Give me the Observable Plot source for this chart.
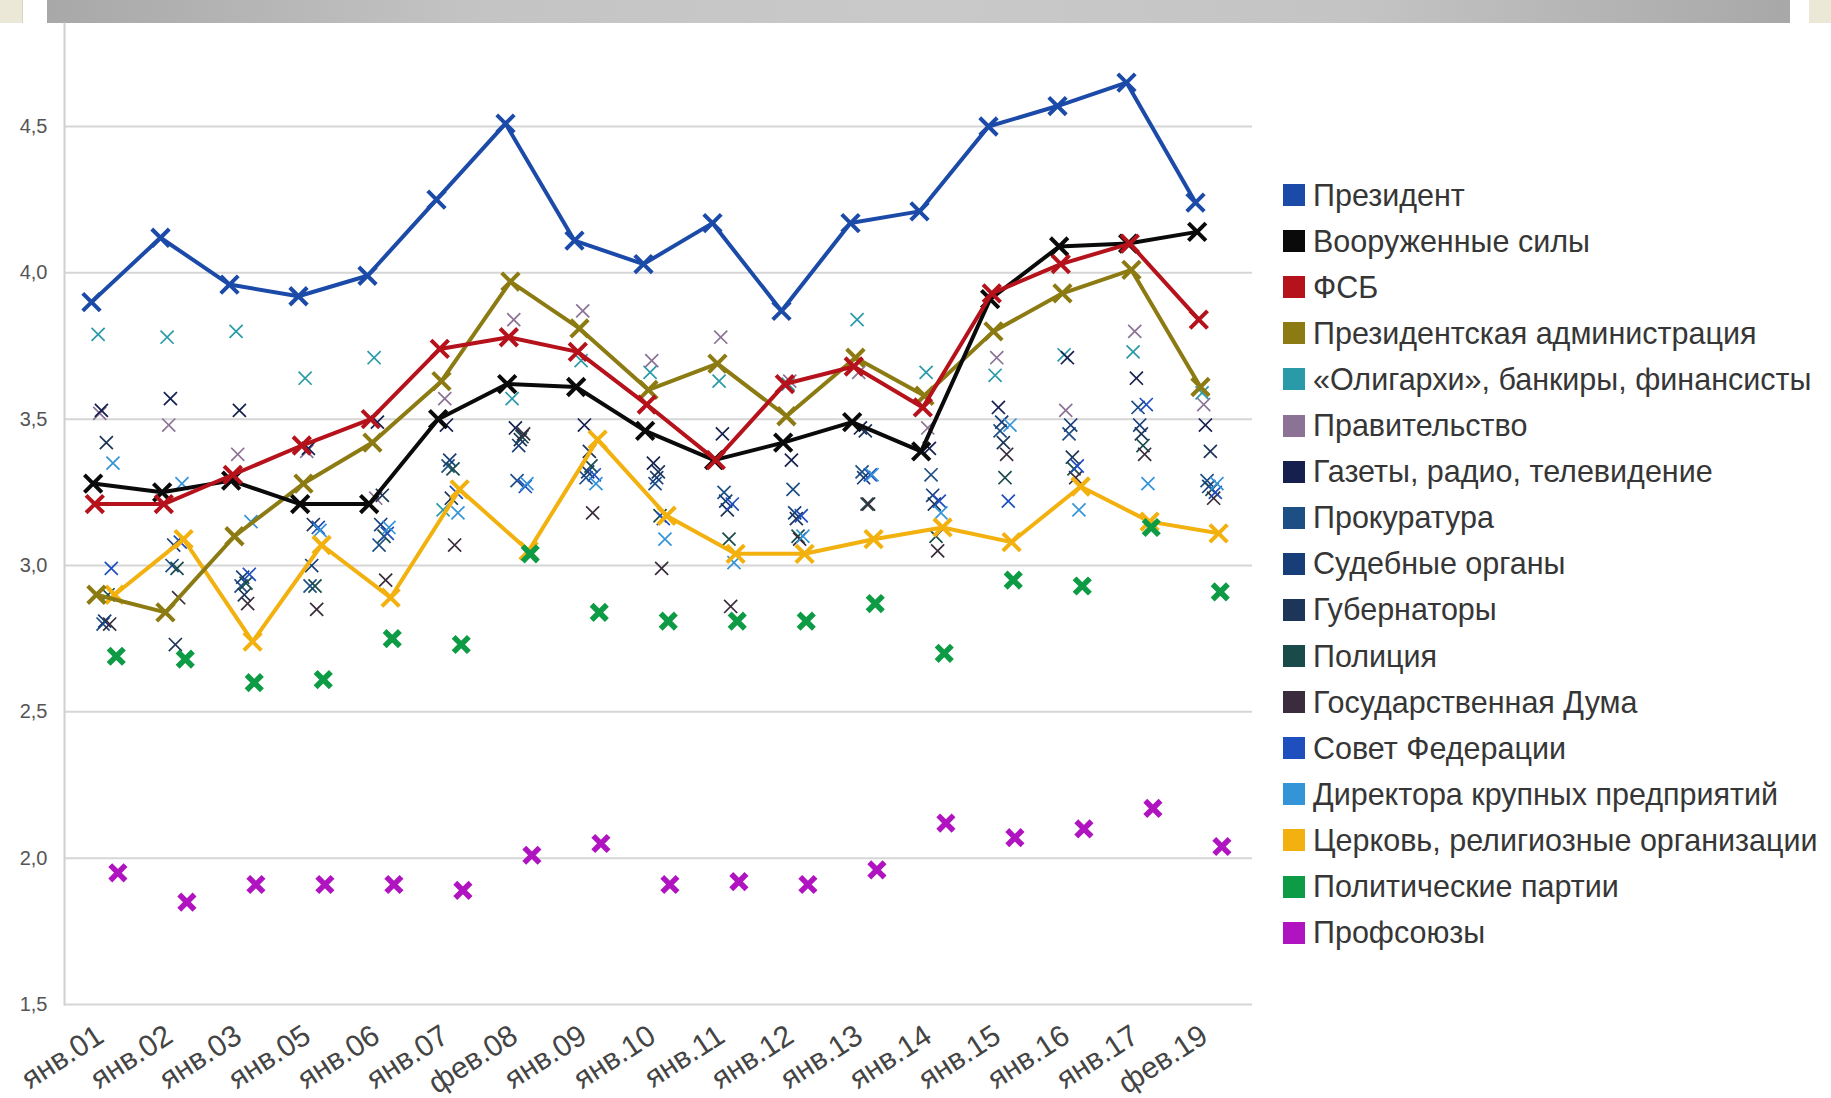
<!DOCTYPE html>
<html>
<head>
<meta charset="utf-8">
<script src="https://cdn.jsdelivr.net/npm/d3@7"></script>
<script src="https://cdn.jsdelivr.net/npm/@observablehq/plot@0.6"></script>
<style>
  html, body { margin: 0; padding: 0; background: #fff; }
  body { width: 1831px; height: 1098px; position: relative; overflow: hidden; font-family: "Liberation Sans", Arial, sans-serif; }
  #topbar { position: absolute; left: 47px; top: 0; width: 1743px; height: 23px;
    background: linear-gradient(to right, #a8a8a8 0%, #c4c4c4 25%, #c9c9c9 50%, #c4c4c4 75%, #a8a8a8 100%); }
  .corner { position: absolute; top: 0; width: 22px; height: 23px; background: #ebe8d8; border-right: 1px solid #d8d4c0; }
  #chart { position: absolute; left: 0; top: 0; }
  #legend { position: absolute; left: 1283px; top: 0; }
  .item { position: absolute; left: 0; display: flex; align-items: center; white-space: nowrap; height: 32px; }
  .sw { width: 22px; height: 22px; margin-right: 8px; flex: none; }
  .lab { font-size: 30.5px; color: #363636; }
</style>
</head>
<body>
<div class="corner" style="left:0"></div>
<div class="corner" style="left:1809px"></div>
<div id="topbar"></div>
<div id="chart"></div>
<div id="legend"></div>
<script>
const labels = ["янв.01","янв.02","янв.03","янв.05","янв.06","янв.07","фев.08","янв.09","янв.10","янв.11","янв.12","янв.13","янв.14","янв.15","янв.16","янв.17","фев.19"];
const yTicks = [1.5, 2, 2.5, 3, 3.5, 4, 4.5];

const president   = [3.90,4.12,3.96,3.92,3.99,4.25,4.51,4.11,4.03,4.17,3.87,4.17,4.21,4.50,4.57,4.65,4.24];
const armedForces = [3.28,3.25,3.29,3.21,3.21,3.50,3.62,3.61,3.46,3.36,3.42,3.49,3.39,3.91,4.09,4.10,4.14];
const fsb         = [3.21,3.21,3.31,3.41,3.50,3.74,3.78,3.73,3.55,3.36,3.62,3.68,3.54,3.93,4.03,4.10,3.84];
const presAdmin   = [2.90,2.84,3.10,3.28,3.42,3.63,3.97,3.81,3.60,3.69,3.51,3.71,3.58,3.80,3.93,4.01,3.61];
const oligarchs   = [3.79,3.78,3.80,3.64,3.71,3.19,3.57,3.70,3.66,3.63,3.62,3.84,3.66,3.65,3.72,3.73,3.59];
const government  = [3.52,3.48,3.38,3.39,3.23,3.57,3.84,3.87,3.70,3.78,3.63,3.66,3.47,3.71,3.53,3.80,3.55];
const media       = [3.53,3.57,3.53,3.40,3.49,3.48,3.47,3.48,3.35,3.45,3.36,3.47,3.40,3.54,3.71,3.64,3.48];
const prosecutors = [2.80,3.00,2.93,2.93,3.07,3.34,3.29,3.30,3.28,3.25,3.26,3.32,3.31,3.46,3.45,3.54,3.29];
const courts      = [2.81,3.07,2.96,3.00,3.14,3.36,3.41,3.32,3.30,3.22,3.18,3.30,3.24,3.49,3.48,3.48,3.27];
const governors   = [3.42,2.73,2.90,3.14,3.24,3.23,3.43,3.39,3.32,3.19,3.16,3.46,3.21,3.42,3.37,3.45,3.39];
const police      = [2.90,2.99,2.94,2.93,3.10,3.33,3.44,3.34,3.17,3.09,3.10,3.21,3.10,3.30,3.33,3.41,3.26];
const duma        = [2.80,2.89,2.87,2.85,2.95,3.07,3.45,3.18,2.99,2.86,3.09,3.21,3.05,3.38,3.30,3.38,3.23];
const fedCouncil  = [2.99,3.08,2.97,3.13,3.11,3.25,3.27,3.31,3.16,3.21,3.17,3.31,3.22,3.22,3.34,3.55,3.25];
const directors   = [3.35,3.28,3.15,3.12,3.13,3.18,3.28,3.28,3.09,3.01,3.10,3.31,3.18,3.48,3.19,3.28,3.28];
const church      = [2.90,3.09,2.74,3.07,2.89,3.26,3.05,3.43,3.17,3.04,3.04,3.09,3.13,3.08,3.27,3.15,3.11];
const parties     = [2.69,2.68,2.60,2.61,2.75,2.73,3.04,2.84,2.81,2.81,2.81,2.87,2.70,2.95,2.93,3.13,2.91];
const unions      = [1.95,1.85,1.91,1.91,1.91,1.89,2.01,2.05,1.91,1.92,1.91,1.96,2.12,2.07,2.10,2.17,2.04];

const seriesNames = ["Президент","Вооруженные силы","ФСБ","Президентская администрация","«Олигархи», банкиры, финансисты","Правительство","Газеты, радио, телевидение","Прокуратура","Судебные органы","Губернаторы","Полиция","Государственная Дума","Совет Федерации","Директора крупных предприятий","Церковь, религиозные организации","Политические партии","Профсоюзы"];
const seriesValues = [president, armedForces, fsb, presAdmin, oligarchs, government, media, prosecutors, courts, governors, police, duma, fedCouncil, directors, church, parties, unions];
const seriesColors = ["#1b4aa8","#0a0a0a","#b5121b","#8c7b12","#2a9aa8","#8c7396","#16204f","#1d4e84","#173e78","#1c3558","#184b4a","#3a2c3c","#1f4fbf","#3494d8","#f2b10f","#0d9b45","#b013c0"];

const rows = seriesValues.flatMap((vals, k) => vals.map((v, i) => ({k, series: seriesNames[k], label: labels[i], value: v})));
const of = k => rows.filter(d => d.k === k);
const dxOf = k => -15 + 1.65 * k;

const marks = [
  Plot.gridY(yTicks, {stroke: "#d6d6d6", strokeOpacity: 1, strokeWidth: 2}),
  Plot.frame({anchor: "left", stroke: "#d0d0d0", strokeWidth: 2}),
  Plot.axisY(yTicks, {tickSize: 0, tickPadding: 17, fontSize: 20, fill: "#555", tickFormat: d => d.toFixed(1).replace(".", ",")}),
  Plot.axisX({tickSize: 0, tickRotate: -33, fontSize: 30, fill: "#444", tickPadding: 10, dx: -6, dy: 18})
];
for (let k = 4; k <= 13; k++) {
  marks.push(Plot.dot(of(k), {x: "label", y: "value", symbol: "times", r: 6, stroke: seriesColors[k], strokeWidth: 1.7, dx: dxOf(k)}));
}
for (const k of [14, 3, 1, 2, 0]) {
  marks.push(Plot.line(of(k), {x: "label", y: "value", stroke: seriesColors[k], strokeWidth: 4, dx: dxOf(k)}));
  marks.push(Plot.dot(of(k), {x: "label", y: "value", symbol: "times", r: 8, stroke: seriesColors[k], strokeWidth: 4, dx: dxOf(k)}));
}
for (const k of [15, 16]) {
  marks.push(Plot.dot(of(k), {x: "label", y: "value", symbol: "times", r: 7, stroke: seriesColors[k], strokeWidth: 5.5, dx: dxOf(k)}));
}

const chart = Plot.plot({
  width: 1280, height: 1098,
  marginLeft: 64, marginRight: 28, marginTop: 23, marginBottom: 94,
  style: {fontFamily: "Liberation Sans, Arial, sans-serif", background: "transparent", overflow: "visible"},
  x: {type: "point", domain: labels, padding: 0.5, label: null},
  y: {domain: [1.5, 4.852], label: null},
  marks
});
document.getElementById("chart").appendChild(chart);

const legend = document.getElementById("legend");
seriesNames.forEach((name, k) => {
  const item = document.createElement("div");
  item.className = "item";
  item.style.top = (195 - 16 + 46.1 * k) + "px";
  const sw = document.createElement("div");
  sw.className = "sw";
  sw.style.background = seriesColors[k];
  const lab = document.createElement("span");
  lab.className = "lab";
  lab.textContent = name;
  item.appendChild(sw); item.appendChild(lab);
  legend.appendChild(item);
});
</script>
</body>
</html>
